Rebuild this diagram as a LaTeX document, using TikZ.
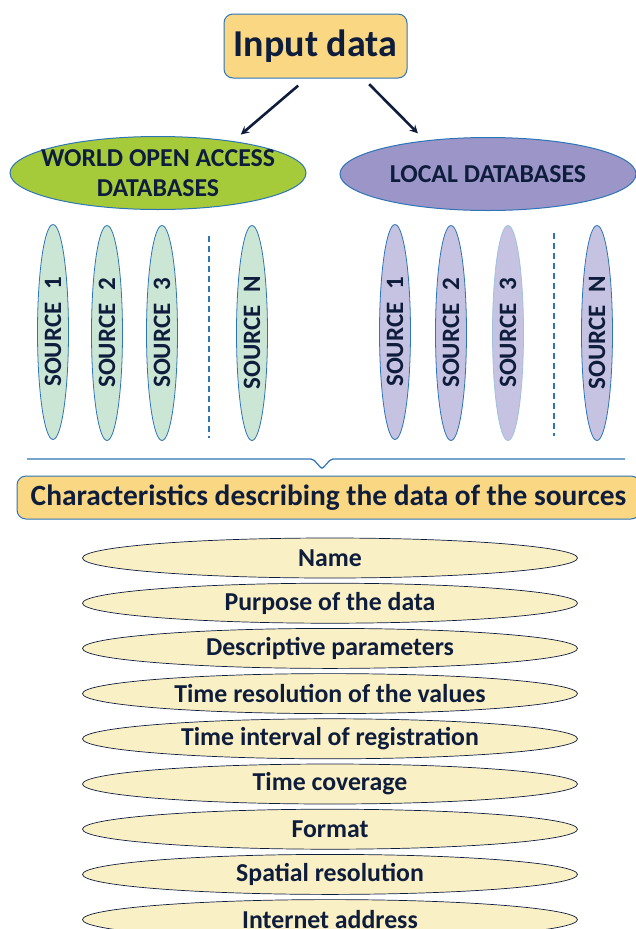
\documentclass[tikz,border=0pt]{standalone}
\usepackage{xcolor}
\usepackage{tikz}
\usepackage{fontspec}
\setmainfont{Carlito}
\usetikzlibrary{shapes,arrows,positioning,calc}
\definecolor{titleyellow}{HTML}{FAD782}
\definecolor{lineblue}{HTML}{2E75B6}
\definecolor{navy}{HTML}{0F1D3D}
\definecolor{worldgreen}{HTML}{A6CB3A}
\definecolor{localpurple}{HTML}{9B95C8}
\definecolor{srcgreen}{HTML}{CCE6D5}
\definecolor{srcpurple}{HTML}{C6C2E1}
\definecolor{itemyellow}{HTML}{FAF0C6}

\begin{document}
\begin{tikzpicture}[x=1pt,y=-1pt]
        % Define styles
        \tikzstyle{inbox} = [rectangle, rounded corners=9pt, minimum width=183pt, minimum height=64pt, text centered, draw=lineblue, fill=titleyellow, line width=1pt, text=navy, font=\bfseries\fontsize{38}{40}\selectfont]
        \tikzstyle{dbase} = [ellipse, minimum width=296pt, minimum height=73pt, inner xsep=-20pt, inner ysep=-4pt, align=center, draw=lineblue, line width=1pt, text=navy, font=\bfseries\fontsize{25.8}{30}\selectfont]
        \tikzstyle{src} = [ellipse, rotate=90, minimum width=215pt, minimum height=31pt, inner xsep=0pt, inner ysep=-4pt, draw=lineblue, line width=0.8pt, text=navy, font=\bfseries\fontsize{25}{27}\selectfont]
        \tikzstyle{charbox} = [rectangle, rounded corners=9pt, minimum width=623pt, minimum height=43pt, inner xsep=2pt, text centered, draw=lineblue, fill=titleyellow, line width=1pt, text=navy, font=\bfseries\fontsize{29.4}{31}\selectfont]
        \tikzstyle{item} = [ellipse, minimum width=495pt, minimum height=40pt, inner sep=0pt, draw=navy, fill=itemyellow, line width=0.7pt, text=navy, font=\bfseries\fontsize{25.8}{27}\selectfont]
        \tikzstyle{arrow} = [line width=2.6pt,->,>=stealth,color=navy]
        \tikzstyle{gap} = [line width=2pt, color=lineblue, dash pattern=on 6pt off 4pt]
        \newcommand{\srcname}[1]{SOURCE\hspace{0.5em}#1}

        \useasboundingbox (0,0) rectangle (635,929);

        % Input data
        \node (input) [inbox] at (315.5,46) {Input data};

        % Databases
        \node (wdb) [dbase, fill=worldgreen] at (158,173) {WORLD OPEN ACCESS\\DATABASES};
        \node (ldb) [dbase, fill=localpurple] at (488,174) {LOCAL DATABASES};

        \draw[arrow, shorten <=11pt, shorten >=10pt] ([xshift=-9pt]input.south) -- (wdb.23);
        \draw[arrow, shorten <=8pt, shorten >=10pt] ([xshift=48pt]input.south) -- (ldb.152);

        % World sources
        \node (ws1) [src, fill=srcgreen] at (53,332) {\srcname{1}};
        \node (ws2) [src, fill=srcgreen] at (107,333) {\srcname{2}};
        \node (ws3) [src, fill=srcgreen] at (162,333) {\srcname{3}};
        \node (wsn) [src, fill=srcgreen] at (252,333) {\srcname{N}};
        \draw[gap] (209,236) -- (209,438);

        % Local sources
        \node (ls1) [src, fill=srcpurple] at (395,332) {\srcname{1}};
        \node (ls2) [src, fill=srcpurple] at (451,333) {\srcname{2}};
        \node (ls3) [src, fill=srcpurple, draw=lineblue!45] at (508,333) {\srcname{3}};
        \node (lsn) [src, fill=srcpurple] at (597,333) {\srcname{N}};
        \draw[gap] (554,233) -- (554,436);

        % Brace
        \draw[lineblue, line width=1.2pt, rounded corners=2pt] (27,459) -- (313,459) -- (322,469) -- (331,459) -- (625,459);

        % Characteristics
        \node (chars) [charbox] at (328.5,497.5) {Characteristics describing the data of the sources};

        \node (name) [item] at (330,558) {Name};
        \node (purpose) [item, below=4.5pt of name] {Purpose of the data};
        \node (descr) [item, below=4.5pt of purpose] {Descriptive parameters};
        \node (tres) [item, below=4.5pt of descr] {Time resolution of the values};
        \node (tint) [item, below=4.5pt of tres] {Time interval of registration};
        \node (tcov) [item, below=4.5pt of tint] {Time coverage};
        \node (format) [item, below=4.5pt of tcov] {Format};
        \node (spatial) [item, below=4.5pt of format] {Spatial resolution};
        \node (inet) [item, below=4.5pt of spatial] {Internet address};

    \end{tikzpicture}
\end{document}
